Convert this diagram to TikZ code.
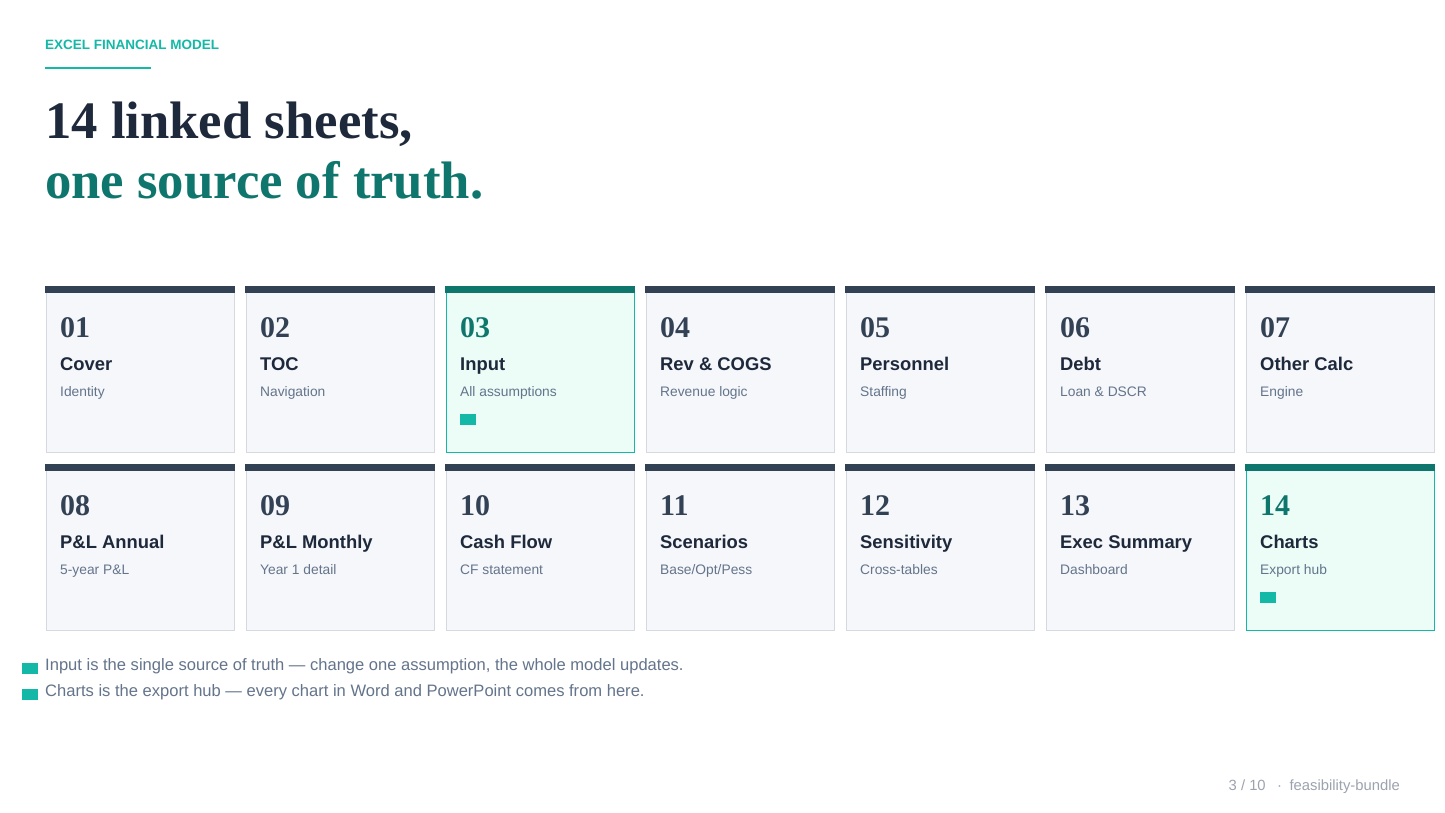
\documentclass[tikz,border=0pt]{standalone}
\usepackage{fontspec}
\setmainfont{Liberation Sans}
\newfontfamily\titlefont{Liberation Serif}
\usetikzlibrary{calc,positioning}

\definecolor{ink}{HTML}{1E293B}
\definecolor{slate}{HTML}{334155}
\definecolor{muted}{HTML}{64748B}
\definecolor{faint}{HTML}{9CA3AF}
\definecolor{accent}{HTML}{14B8A6}
\definecolor{deepteal}{HTML}{0F766E}
\definecolor{cardfill}{HTML}{F5F7FA}
\definecolor{cardline}{HTML}{D5D9E0}
\definecolor{keyfill}{HTML}{ECFDF8}

\tikzset{
  sheet/.style={minimum width=188pt,minimum height=165pt,anchor=north west,inner sep=0pt},
  plain/.style={draw=cardline,fill=cardfill,line width=1pt},
  key/.style={draw=accent,fill=keyfill,line width=1.3pt},
  plain bar/.style={fill=slate},
  key bar/.style={fill=deepteal},
  plain num/.style={text=slate},
  key num/.style={text=deepteal},
  numtxt/.style={anchor=base west,inner sep=0pt,font=\titlefont\bfseries\fontsize{30}{36}\selectfont},
  nametxt/.style={anchor=base west,inner sep=0pt,text=ink,font=\bfseries\fontsize{18.4}{22}\selectfont},
  subtxt/.style={anchor=base west,inner sep=0pt,text=muted,font=\fontsize{13.8}{16}\selectfont},
  notetxt/.style={anchor=base west,inner sep=0pt,text=muted,font=\fontsize{16.55}{20}\selectfont},
}

\begin{document}
\begin{tikzpicture}[x=1pt,y=-1pt]

  \fill[white] (0,0) rectangle (1445,813);
  \useasboundingbox (0,0) rectangle (1445,813);

  % heading
  \node[anchor=base west,inner sep=0pt,text=accent,font=\bfseries\fontsize{13.5}{16}\selectfont] at (45,50) (kicker) {EXCEL FINANCIAL MODEL};
  \coordinate (rule_l) at (45,68);
  \coordinate (rule_r) at (151,68);
  \draw[accent,line width=1.2pt] (rule_l) -- (rule_r);
  \node[anchor=base west,inner sep=0pt,text=ink,font=\titlefont\bfseries\fontsize{52.7}{60}\selectfont] at (45,139) (title_a) {14 linked sheets,};
  \node[anchor=base west,inner sep=0pt,text=deepteal,font=\titlefont\bfseries\fontsize{52.7}{60}\selectfont] at (45,199) (title_b) {one source of truth.};

  % the sheets
  \foreach \num/\name/\sub/\kind [count=\i from 0] in {%
      01/Cover/Identity/plain, 02/TOC/Navigation/plain, 03/Input/All assumptions/key,
      04/Rev \& COGS/Revenue logic/plain, 05/Personnel/Staffing/plain,
      06/Debt/Loan \& DSCR/plain, 07/Other Calc/Engine/plain,
      08/P\&L Annual/5-year P\&L/plain, 09/P\&L Monthly/Year 1 detail/plain,
      10/Cash Flow/CF statement/plain, 11/Scenarios/{Base/Opt/Pess}/plain,
      12/Sensitivity/Cross-tables/plain, 13/Exec Summary/Dashboard/plain,
      14/Charts/Export hub/key}{

    \pgfmathsetmacro{\cx}{45.5+200*mod(\i,7)}% left edge
    \pgfmathsetmacro{\cy}{286.5+178*int(\i/7)}% top edge

    \node[sheet,\kind] at (\cx,\cy) (sheet\num) {};
    \fill[\kind\space bar] ($(sheet\num.north west)+(-0.5,-0.5)$) rectangle ($(sheet\num.north east)+(0.5,6)$);
    \node[numtxt,\kind\space num] at ($(sheet\num.north west)+(14.5,50.5)$) (num\num) {\num};
    \node[nametxt] at ($(sheet\num.north west)+(14.5,84)$) (name\num) {\name};
    \node[subtxt] at ($(sheet\num.north west)+(14.5,110)$) (sub\num) {\sub};
  }

  \foreach \s in {03,14}
    \fill[accent] ($(sheet\s.north west)+(14.5,127.5)$) rectangle +(16,11);

  % notes
  \fill[accent] (22,663) rectangle (38,674);
  \node[notetxt] at (45,670) (note_a) {Input is the single source of truth — change one assumption, the whole model updates.};
  \fill[accent] (22,689) rectangle (38,700);
  \node[notetxt] at (45,696.5) (note_b) {Charts is the export hub — every chart in Word and PowerPoint comes from here.};

  \node[anchor=base east,inner sep=0pt,text=faint,font=\fontsize{14.8}{18}\selectfont] at (1400,790) (pager) {3 / 10 \enspace·\enspace feasibility-bundle};
\end{tikzpicture}
\end{document}
